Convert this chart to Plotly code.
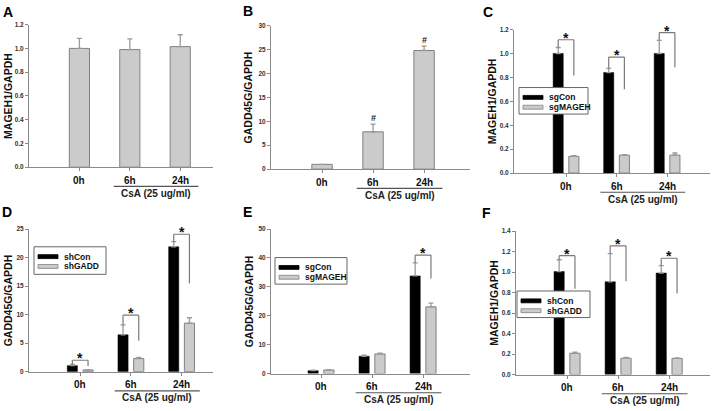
import plotly.graph_objects as go

# ---------------- data ----------------
categories = ["0h", "6h", "24h"]
positions = [1, 2, 3]

a_vals = [1.00, 0.99, 1.015]
a_err = [0.085, 0.09, 0.10]

b_vals = [1.0, 7.8, 24.8]
b_err = [0.0, 1.6, 0.9]
b_marks = ["", "#", "#"]

c_sgcon = [1.0, 0.84, 1.0]
c_sgcon_err = [0.05, 0.035, 0.11]
c_sgmageh = [0.14, 0.15, 0.15]
c_sgmageh_err = [0.005, 0.004, 0.018]
c_br_top = [1.115, 0.97, 1.175]
c_br_right = [0.815, 0.70, 0.885]

d_shcon = [1.05, 6.45, 21.9]
d_shcon_err = [0.22, 1.75, 0.9]
d_shgadd = [0.3, 2.3, 8.5]
d_shgadd_err = [0.05, 0.18, 0.95]
d_br_top = [2.0, 9.9, 24.1]
d_br_right = [1.0, 5.4, 15.5]

e_sgcon = [1.0, 6.0, 33.8]
e_sgcon_err = [0.2, 0.35, 4.5]
e_sgmageh = [1.25, 6.8, 23.1]
e_sgmageh_err = [0.15, 0.25, 1.3]
e_br_top = [None, None, 41.0]
e_br_right = [None, None, 32.9]

f_shcon = [1.005, 0.905, 0.99]
f_shcon_err = [0.115, 0.275, 0.073]
f_shgadd = [0.208, 0.16, 0.158]
f_shgadd_err = [0.01, 0.008, 0.005]
f_br_top = [1.16, 1.256, 1.135]
f_br_right = [0.837, 0.91, 0.79]

# ---------------- style ----------------
W, H = 720, 411
FONT = "Liberation Sans, Arial, sans-serif"
GRAY = "#cbcbcb"
GRAY_LINE = "#808080"
AX = "#8a8a8a"


def px(x):
    return x / W


def py(y):
    return 1 - y / H


fig = go.Figure()
shapes = []
annotations = []

# panel geometry: (x0, x1, ytop, ybot, yrange, dtick, fmt, xrange, title, letter, title_x)
panels = [
    (29, 213, 21, 166, [0, 1.2], 0.2, ".1f", [0.0, 3.65], "MAGEH1/GAPDH", "A", 8),
    (271, 470, 22, 168, [0, 30], 5, "d", [0.0, 3.9], "GADD45G/GAPDH", "B", 248),
    (514, 710, 26, 172, [0, 1.2], 0.2, ".1f", [-0.03, 3.85], "MAGEH1/GAPDH", "C", 492),
    (29, 213, 229, 374, [0, 25], 5, "d", [-0.01, 3.62], "GADD45G/GAPDH", "D", 8),
    (271, 470, 229, 376, [0, 50], 10, "d", [0.02, 3.92], "GADD45G/GAPDH", "E", 249),
    (516, 710, 231, 377, [0, 1.4], 0.2, ".1f", [0.0, 3.8], "MAGEH1/GAPDH", "F", 494),
]
letter_pos = [(8, 8), (248, 7), (488, 8), (7, 212), (247, 212), (486, 213)]

layout_axes = {}
for i, (x0, x1, yt, yb, yr, dt, fmt, xr, title, letter, tx) in enumerate(panels):
    n = "" if i == 0 else str(i + 1)
    layout_axes["xaxis" + n] = dict(
        domain=[px(x0), px(x1)], range=xr, anchor="y" + n,
        tickvals=positions, showticklabels=False,
        showline=True, linecolor=AX, linewidth=1,
        ticks="outside", ticklen=3, tickcolor=AX, tickwidth=1,
        showgrid=False, zeroline=False, fixedrange=True,
    )
    layout_axes["yaxis" + n] = dict(
        domain=[py(yb), py(yt)], range=yr, anchor="x" + n,
        dtick=dt, tick0=0, tickformat=fmt,
        showline=True, linecolor=AX, linewidth=1,
        ticks="outside", ticklen=3, tickcolor=AX, tickwidth=1,
        tickfont=dict(family=FONT, size=6.5, color="#333", weight="bold"),
        showgrid=False, zeroline=False, fixedrange=True,
    )
    xa = "x" + n
    # category labels
    for p, c in zip(positions, categories):
        annotations.append(dict(
            text=c, xref=xa, yref="paper", x=p, y=py(yb + 13.5),
            showarrow=False, xanchor="center", yanchor="middle",
            font=dict(family=FONT, size=10, color="#111", weight="bold")))
    # y title
    annotations.append(dict(
        text=title, textangle=-90, xref="paper", yref="paper",
        x=px(tx), y=py((yt + yb) / 2), showarrow=False,
        font=dict(family=FONT, size=10.5, color="#111", weight="bold"),
        xanchor="center", yanchor="middle"))
    # panel letter
    lx, ly = letter_pos[i]
    annotations.append(dict(
        text=letter, xref="paper", yref="paper", x=px(lx), y=py(ly),
        showarrow=False, xanchor="center", yanchor="middle",
        font=dict(family=FONT, size=14, color="#000", weight="bold")))
    # CsA line + text
    shapes.append(dict(type="line", xref=xa, yref="paper",
                       x0=positions[1] - 0.32, x1=positions[2] + 0.36,
                       y0=py(yb + 19.5), y1=py(yb + 19.5),
                       line=dict(color="#555", width=1.2)))
    annotations.append(dict(
        text="CsA (25 ug/ml)", xref=xa, yref="paper",
        x=(positions[1] + positions[2]) / 2 + 0.02, y=py(yb + 26.5),
        showarrow=False, xanchor="center", yanchor="middle",
        font=dict(family=FONT, size=10, color="#222", weight="bold")))


def err(arr):
    return dict(type="data", array=arr, arrayminus=[0] * len(arr),
                symmetric=False, color="#9a9a9a", thickness=1.3, width=2.5)


def single(vals, errs, axn):
    fig.add_trace(go.Bar(x=positions, y=vals, error_y=err(errs),
                         marker=dict(color=GRAY, line=dict(color=GRAY_LINE, width=1)),
                         xaxis="x" + axn, yaxis="y" + axn, showlegend=False))


def pair(v1, e1, v2, e2, axn):
    fig.add_trace(go.Bar(x=positions, y=v1, error_y=err(e1),
                         marker=dict(color="#000000", line=dict(color="#000", width=0.5)),
                         xaxis="x" + axn, yaxis="y" + axn, showlegend=False))
    fig.add_trace(go.Bar(x=positions, y=v2, error_y=err(e2),
                         marker=dict(color=GRAY, line=dict(color=GRAY_LINE, width=1)),
                         xaxis="x" + axn, yaxis="y" + axn, showlegend=False))


single(a_vals, a_err, "")
single(b_vals, b_err, "2")
pair(c_sgcon, c_sgcon_err, c_sgmageh, c_sgmageh_err, "3")
pair(d_shcon, d_shcon_err, d_shgadd, d_shgadd_err, "4")
pair(e_sgcon, e_sgcon_err, e_sgmageh, e_sgmageh_err, "5")
pair(f_shcon, f_shcon_err, f_shgadd, f_shgadd_err, "6")

# '#' marks in B
for p, v, e, m in zip(positions, b_vals, b_err, b_marks):
    if m:
        annotations.append(dict(text=m, xref="x2", yref="y2", x=p, y=v + e,
                                showarrow=False, yanchor="bottom", yshift=-1,
                                font=dict(family=FONT, size=9, color="#222", weight="bold")))

OFF = 0.155
BR = "#7a7a7a"


def brackets(axn, cv, ce, top, right):
    for p, v, e, t, r in zip(positions, cv, ce, top, right):
        if t is None:
            continue
        xl, xr_ = p - OFF, p + OFF
        for (xa0, ya0, xa1, ya1) in [(xl, t, xr_, t), (xl, v + e, xl, t), (xr_, r, xr_, t)]:
            shapes.append(dict(type="line", xref="x" + axn, yref="y" + axn,
                               x0=xa0, y0=ya0, x1=xa1, y1=ya1,
                               line=dict(color=BR, width=1.2)))
        annotations.append(dict(text="*", xref="x" + axn, yref="y" + axn, x=p, y=t,
                                showarrow=False, yanchor="middle", yshift=2,
                                font=dict(family=FONT, size=14, color="#111", weight="bold")))


brackets("3", c_sgcon, c_sgcon_err, c_br_top, c_br_right)
brackets("4", d_shcon, d_shcon_err, d_br_top, d_br_right)
brackets("5", e_sgcon, e_sgcon_err, e_br_top, e_br_right)
brackets("6", f_shcon, f_shcon_err, f_br_top, f_br_right)

# manual legends (box in px)
legends = [
    ((519, 85, 588, 112), ["sgCon", "sgMAGEH"]),
    ((34, 247, 106, 275), ["shCon", "shGADD"]),
    ((275, 258, 347, 285), ["sgCon", "sgMAGEH"]),
    ((517, 292, 590, 319), ["shCon", "shGADD"]),
]
for (bx0, by0, bx1, by1), names in legends:
    shapes.append(dict(type="rect", xref="paper", yref="paper",
                       x0=px(bx0), x1=px(bx1), y0=py(by1), y1=py(by0),
                       fillcolor="white", line=dict(color="#666", width=1), layer="above"))
    for k, (name, col, lc) in enumerate(zip(names, ["#000", GRAY], ["#000", GRAY_LINE])):
        ry = by0 + 10 + 10 * k
        shapes.append(dict(type="rect", xref="paper", yref="paper",
                           x0=px(bx0 + 4), x1=px(bx0 + 24), y0=py(ry + 2), y1=py(ry - 2),
                           fillcolor=col, line=dict(color=lc, width=0.8), layer="above"))
        annotations.append(dict(text=name, xref="paper", yref="paper",
                                x=px(bx0 + 28), y=py(ry), showarrow=False,
                                xanchor="left", yanchor="middle",
                                font=dict(family=FONT, size=8.5, color="#111", weight="bold")))

fig.update_layout(
    width=W, height=H, autosize=False,
    margin=dict(l=0, r=0, t=0, b=0),
    paper_bgcolor="white", plot_bgcolor="white",
    barmode="group", bargap=0.38, bargroupgap=0.355,
    shapes=shapes, annotations=annotations, showlegend=False,
    **layout_axes,
)

fig.write_html("out.html", config={"displayModeBar": False},
               post_script="document.body.style.margin='0';document.body.style.overflow='hidden';")
